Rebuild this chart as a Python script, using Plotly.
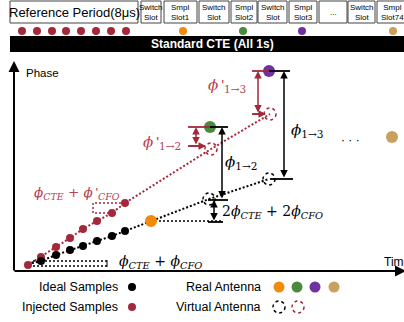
import plotly.graph_objects as go

# ---------------- data (time, phase) ----------------
ideal_time = [14, 27, 42, 56, 69, 83, 98, 111]
ideal_phase = [7, 10, 16, 21, 25, 30, 35, 40]
injected_time = [14, 27, 42, 56, 69, 83, 98, 111]
injected_phase = [6, 14, 24, 33, 42, 50, 58, 68]
real_time = [137, 196, 255, 378]
real_phase = [50, 144, 200, 134]
real_names = ["Ant1", "Ant2", "Ant3", "Ant74"]
virtual_ideal_time = [195, 255]
virtual_ideal_phase = [72, 92]
virtual_injected_time = [197, 256]
virtual_injected_phase = [122, 157]

slot_labels = ["Reference Period(8μs)", "Switch<br>Slot", "Smpl<br>Slot1", "Switch<br>Slot",
               "Smpl<br>Slot2", "Switch<br>Slot", "Smpl<br>Slot3", "...", "Switch<br>Slot", "Smpl<br>Slot74"]
slot_edges_px = [(10, 138), (141, 161), (164, 197), (199, 229), (231, 257), (258, 287),
                 (289, 317), (319, 347), (348, 375), (377, 408)]
ref_dot_px = [22, 37, 52, 66, 81, 96, 111, 126]
smpl_dot_px = [183, 243, 302, 393]

RED = "#a3283a"
RED_T = "#b8404f"
COLORS = ["#f28a0c", "#4a8a3c", "#7030a0", "#c9a05e"]
SERIF = "DejaVu Serif"
SANS = "Liberation Sans"
PRIME = "<span style='font-family:Liberation Sans'>\u2009'</span>"

def X(px):
    return px - 14

def Y(py):
    return 271 - py

fig = go.Figure()
shapes = []
ann = []

# ---------------- header ----------------
for (a, b), lab in zip(slot_edges_px, slot_labels):
    shapes.append(dict(type="rect", x0=X(a), x1=X(b), y0=Y(23), y1=Y(1),
                       line=dict(color="#444", width=1), fillcolor="white"))
    fs = 13 if lab.startswith("Reference") else 8
    ann.append(dict(x=X((a + b) / 2), y=Y(12), text=lab, showarrow=False,
                    font=dict(family=SANS, size=fs, color="black"), xanchor="center", yanchor="middle"))

fig.add_trace(go.Scatter(x=[X(p) for p in ref_dot_px], y=[Y(31)] * len(ref_dot_px), mode="markers",
                         marker=dict(color=RED, size=8), hoverinfo="skip"))
fig.add_trace(go.Scatter(x=[X(p) for p in smpl_dot_px], y=[Y(31)] * len(smpl_dot_px), mode="markers",
                         marker=dict(color=COLORS, size=8), hoverinfo="skip"))

shapes.append(dict(type="rect", x0=X(10), x1=X(410), y0=Y(52), y1=Y(36), line=dict(width=0), fillcolor="black"))
ann.append(dict(x=X(212), y=Y(44), text="<b>Standard CTE (All 1s)</b>", showarrow=False,
                font=dict(family=SANS, size=12, color="white")))

# ---------------- axes ----------------
ann.append(dict(x=X(14), y=Y(61), ax=X(14), ay=Y(272), axref="x", ayref="y", text="", showarrow=True,
                arrowhead=2, arrowsize=1.1, arrowwidth=2, arrowcolor="black", standoff=0))
ann.append(dict(x=X(406), y=Y(271), ax=X(13), ay=Y(271), axref="x", ayref="y", text="", showarrow=True,
                arrowhead=2, arrowsize=1.1, arrowwidth=2, arrowcolor="black", standoff=0))
ann.append(dict(x=X(24), y=Y(73), text="Phase", showarrow=False, xanchor="left",
                font=dict(family=SANS, size=11.5, color="black")))
ann.append(dict(x=X(382), y=Y(262), text="Time", showarrow=False, xanchor="left",
                font=dict(family=SANS, size=12, color="black")))

# ---------------- lines ----------------
fig.add_trace(go.Scatter(x=injected_time + virtual_injected_time, y=injected_phase + virtual_injected_phase,
                         mode="lines", line=dict(color=RED, width=2, dash="2px,2px"), hoverinfo="skip"))
fig.add_trace(go.Scatter(x=ideal_time + real_time[:1] + virtual_ideal_time,
                         y=ideal_phase + real_phase[:1] + virtual_ideal_phase,
                         mode="lines", line=dict(color="black", width=2, dash="2px,2px"), hoverinfo="skip"))
# horizontal reference from antenna 1
fig.add_trace(go.Scatter(x=[real_time[0], virtual_ideal_time[0] + 13], y=[real_phase[0], real_phase[0]],
                         mode="lines", line=dict(color="black", width=1.5, dash="2px,2px"), hoverinfo="skip"))

# small phase-step brackets
fig.add_trace(go.Scatter(x=[X(107), X(32), None, X(107), X(32)], y=[Y(261), Y(261), None, Y(266), Y(266)],
                         mode="lines", line=dict(color="black", width=1.5, dash="2px,2px"), hoverinfo="skip"))
shapes.append(dict(type="line", x0=X(107), x1=X(107), y0=Y(260), y1=Y(267), line=dict(color="black", width=1)))
fig.add_trace(go.Scatter(x=[injected_time[-1], X(93), X(93), injected_time[-2]],
                         y=[injected_phase[-1], injected_phase[-1], injected_phase[-2], injected_phase[-2]],
                         mode="lines", line=dict(color=RED, width=1.5, dash="2px,2px"), hoverinfo="skip"))

# ---------------- points ----------------
fig.add_trace(go.Scatter(x=injected_time, y=injected_phase, mode="markers",
                         marker=dict(color=RED, size=8), hoverinfo="skip"))
fig.add_trace(go.Scatter(x=ideal_time[1:], y=ideal_phase[1:], mode="markers",
                         marker=dict(color="black", size=8), hoverinfo="skip"))
fig.add_trace(go.Scatter(x=real_time, y=real_phase, mode="markers", text=real_names,
                         marker=dict(color=COLORS, size=12), hoverinfo="skip"))

# virtual antenna dotted circles
for t, p in zip(virtual_ideal_time, virtual_ideal_phase):
    shapes.append(dict(type="circle", x0=t - 6, x1=t + 6, y0=p - 6, y1=p + 6,
                       line=dict(color="black", width=1.5, dash="dot")))
for t, p in zip(virtual_injected_time, virtual_injected_phase):
    shapes.append(dict(type="circle", x0=t - 6, x1=t + 6, y0=p - 6, y1=p + 6,
                       line=dict(color=RED, width=1.5, dash="dot")))

# ---------------- measurement brackets ----------------
def hline(x0, x1, y, color, w=1.8):
    shapes.append(dict(type="line", x0=x0, x1=x1, y0=y, y1=y, line=dict(color=color, width=w)))

def darrow(x, y0, y1, color):
    ann.append(dict(x=x, y=y0, ax=x, ay=y1, axref="x", ayref="y", text="", showarrow=True,
                    arrowhead=2, startarrowhead=2, arrowside="end+start", arrowsize=1, arrowwidth=1.5,
                    arrowcolor=color, standoff=0, startstandoff=0))

def rarrow(x0, x1, y, color):
    ann.append(dict(x=x1, y=y, ax=x0, ay=y, axref="x", ayref="y", text="", showarrow=True,
                    arrowhead=2, arrowsize=1, arrowwidth=1.5, arrowcolor=color, standoff=0))

g_t, g_p = real_time[1], real_phase[1]
pu_t, pu_p = real_time[2], real_phase[2]
# phi'_{1->2}
hline(g_t - 22, g_t, g_p, RED)
hline(g_t, g_t + 18, g_p, "black")
rarrow(g_t - 22, virtual_injected_time[0] - 5, virtual_injected_phase[0] + 3, RED)
hline(g_t - 22, virtual_injected_time[0] - 6, virtual_injected_phase[0] + 3, RED)
darrow(g_t - 14, g_p, virtual_injected_phase[0] + 3, RED)
# phi_{1->2}
darrow(g_t + 12, g_p, virtual_ideal_phase[0] - 1, "black")
hline(virtual_ideal_time[0] - 1, virtual_ideal_time[0] + 19, virtual_ideal_phase[0] - 1, "black")
# 2phi bracket
hline(virtual_ideal_time[0] - 1, virtual_ideal_time[0] + 14, real_phase[0] - 1, "black")
darrow(virtual_ideal_time[0] + 5, virtual_ideal_phase[0] - 1, real_phase[0] - 1, "black")
# phi'_{1->3}
hline(pu_t - 17, pu_t, pu_p, RED)
hline(pu_t, pu_t + 21, pu_p, "black")
hline(pu_t - 17, virtual_injected_time[1] - 5, virtual_injected_phase[1], RED)
rarrow(pu_t - 17, virtual_injected_time[1] - 4, virtual_injected_phase[1], RED)
darrow(pu_t - 11, pu_p, virtual_injected_phase[1], RED)
# phi_{1->3}
darrow(pu_t + 15, pu_p, virtual_ideal_phase[1], "black")
hline(virtual_ideal_time[1] + 1, virtual_ideal_time[1] + 24, virtual_ideal_phase[1], "black")

# ---------------- math labels ----------------
def mlabel(x, y, text, color, anchor="left", size=15):
    ann.append(dict(x=x, y=y, text=text, showarrow=False, xanchor=anchor, yanchor="middle",
                    font=dict(family=SERIF, size=size, color=color)))

mlabel(X(183), Y(142), "<i>ϕ</i>" + PRIME + "<sub>1→2</sub>", RED_T, "right")
mlabel(X(248), Y(85), "<i>ϕ</i>" + PRIME + "<sub>1→3</sub>", RED_T, "right")
mlabel(X(223), Y(162), "<i>ϕ</i><sub>1→2</sub>", "black")
mlabel(X(289), Y(130), "<i>ϕ</i><sub>1→3</sub>", "black")
mlabel(X(220), Y(212), "2<i>ϕ</i><sub><i>CTE</i></sub> + 2<i>ϕ</i><sub><i>CFO</i></sub>", "black", size=14)
mlabel(X(32), Y(193), "<i>ϕ</i><sub><i>CTE</i></sub> + <i>ϕ</i>" + PRIME + "<sub><i>CFO</i></sub>", RED_T, size=13.5)
mlabel(X(117), Y(262), "<i>ϕ</i><sub><i>CTE</i></sub> + <i>ϕ</i><sub><i>CFO</i></sub>", "black", size=14)
ann.append(dict(x=X(350), y=Y(140), text="· · ·", showarrow=False, font=dict(family=SANS, size=12, color="black")))

# ---------------- legend ----------------
ann.append(dict(x=X(120), y=Y(287), text="Ideal Samples", showarrow=False, xanchor="right",
                font=dict(family=SANS, size=12.5, color="black")))
ann.append(dict(x=X(120), y=Y(307), text="Injected Samples", showarrow=False, xanchor="right",
                font=dict(family=SANS, size=12.5, color="black")))
ann.append(dict(x=X(263), y=Y(287), text="Real Antenna", showarrow=False, xanchor="right",
                font=dict(family=SANS, size=12.5, color="black")))
ann.append(dict(x=X(263), y=Y(307), text="Virtual Antenna", showarrow=False, xanchor="right",
                font=dict(family=SANS, size=12.5, color="black")))
fig.add_trace(go.Scatter(x=[X(132), X(132)], y=[Y(287), Y(307)], mode="markers",
                         marker=dict(color=["black", RED], size=8), hoverinfo="skip"))
fig.add_trace(go.Scatter(x=[X(279), X(297), X(315), X(334)], y=[Y(287)] * 4, mode="markers",
                         marker=dict(color=COLORS, size=11), hoverinfo="skip"))
for cx, col in [(279, "black"), (298, RED)]:
    shapes.append(dict(type="circle", x0=X(cx) - 6, x1=X(cx) + 6, y0=Y(307) - 6, y1=Y(307) + 6,
                       line=dict(color=col, width=1.5, dash="dot")))

fig.update_layout(
    width=404, height=322, margin=dict(l=0, r=0, t=0, b=0),
    paper_bgcolor="white", plot_bgcolor="white", showlegend=False,
    xaxis=dict(range=[X(0), X(404)], visible=False, fixedrange=True),
    yaxis=dict(range=[Y(322), Y(0)], visible=False, fixedrange=True),
    shapes=shapes, annotations=ann,
)
fig.write_html("out.html")
